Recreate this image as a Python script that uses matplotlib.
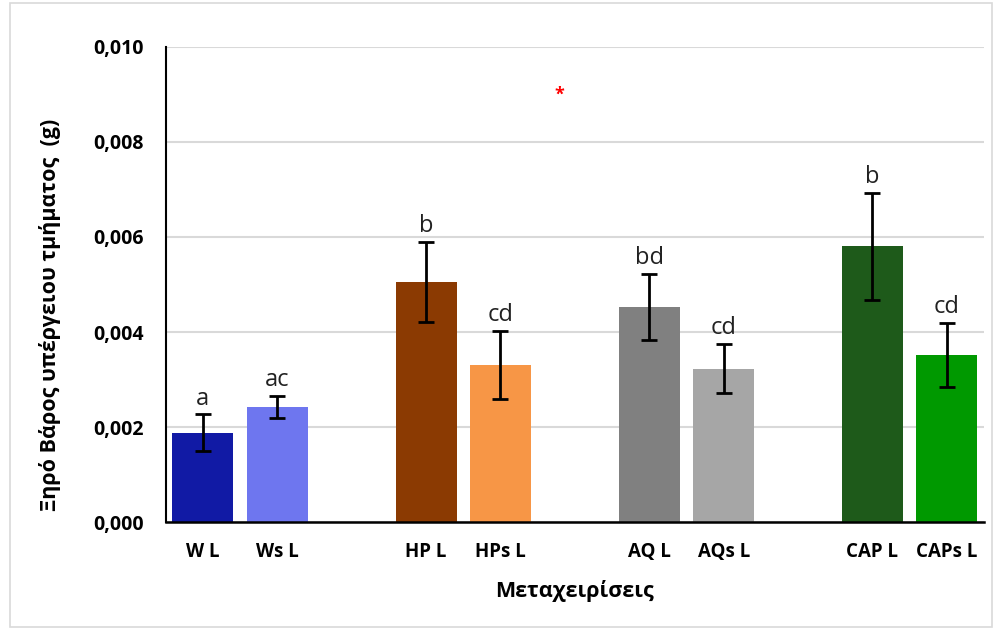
import numpy as np
import matplotlib
matplotlib.use("Agg")
from matplotlib import pyplot as plt
from matplotlib.patches import Rectangle

plt.rcParams['font.family'] = ['Open Sans', 'DejaVu Sans']

# data (g)
labels = ["W L", "Ws L", "HP L", "HPs L", "AQ L", "AQs L", "CAP L", "CAPs L"]
slots = [0, 1, 3, 4, 6, 7, 9, 10]
means = [0.00188, 0.00242, 0.00505, 0.00331, 0.00453, 0.00323, 0.00580, 0.00352]
errs = [0.00039, 0.00023, 0.00084, 0.00071, 0.00070, 0.00052, 0.00113, 0.00067]
letters = ["a", "ac", "b", "cd", "bd", "cd", "b", "cd"]
colors = ["#111aa5", "#6e76ef", "#8b3a02", "#f79646",
          "#808080", "#a6a6a6", "#1e5a1a", "#009900"]

fig = plt.figure(figsize=(9.97, 6.33), dpi=100)
ax = fig.add_axes([0.1662, 0.1749, 0.8208, 0.7513])

ax.bar(slots, means, width=0.82, color=colors, zorder=2)
ax.errorbar(slots, means, yerr=errs, fmt='none', ecolor='black',
            elinewidth=2, capsize=6, capthick=2, zorder=3)

for x, m, e, t in zip(slots, means, errs, letters):
    ax.text(x, m + e + 0.00008, t, ha='center', va='bottom',
            fontsize=17, color='#222222')

ax.text(4.79, 0.0090, "*", ha='center', va='center', color='red',
        fontsize=13, fontweight='bold')

ax.set_xlim(-0.5, 10.5)
ax.set_ylim(0, 0.010)
ax.set_yticks(np.arange(0, 0.0101, 0.002))
ax.set_yticklabels([f"{v:.3f}".replace('.', ',') for v in np.arange(0, 0.0101, 0.002)])
ax.set_xticks(slots)
ax.set_xticklabels(labels)
for lab in ax.get_yticklabels():
    lab.set_fontweight('bold')
    lab.set_fontsize(14)
for lab in ax.get_xticklabels():
    lab.set_fontweight('bold')
    lab.set_fontsize(13.5)
ax.tick_params(axis='both', length=0)
ax.tick_params(axis='y', pad=16)
ax.tick_params(axis='x', pad=14)

ax.grid(axis='y', color='#d9d9d9', linewidth=1.5, zorder=0)
ax.set_axisbelow(True)
for s in ['top', 'right']:
    ax.spines[s].set_visible(False)
ax.spines['left'].set_linewidth(1.5)
ax.spines['bottom'].set_linewidth(1.8)

ax.set_xlabel("Μεταχειρίσεις", fontsize=15.5, fontweight='bold', labelpad=13)
ax.set_ylabel("Ξηρό Βάρος υπέργειου τμήματος  (g)", fontsize=15.5,
              fontweight='bold')
ax.yaxis.set_label_coords(-0.128, 0.436)

# chart frame
fig.patches.append(Rectangle((0.01, 0.01), 0.985, 0.985, transform=fig.transFigure,
                             fill=False, edgecolor='#d9d9d9', linewidth=1.2))

fig.savefig("out.png", dpi=100)
